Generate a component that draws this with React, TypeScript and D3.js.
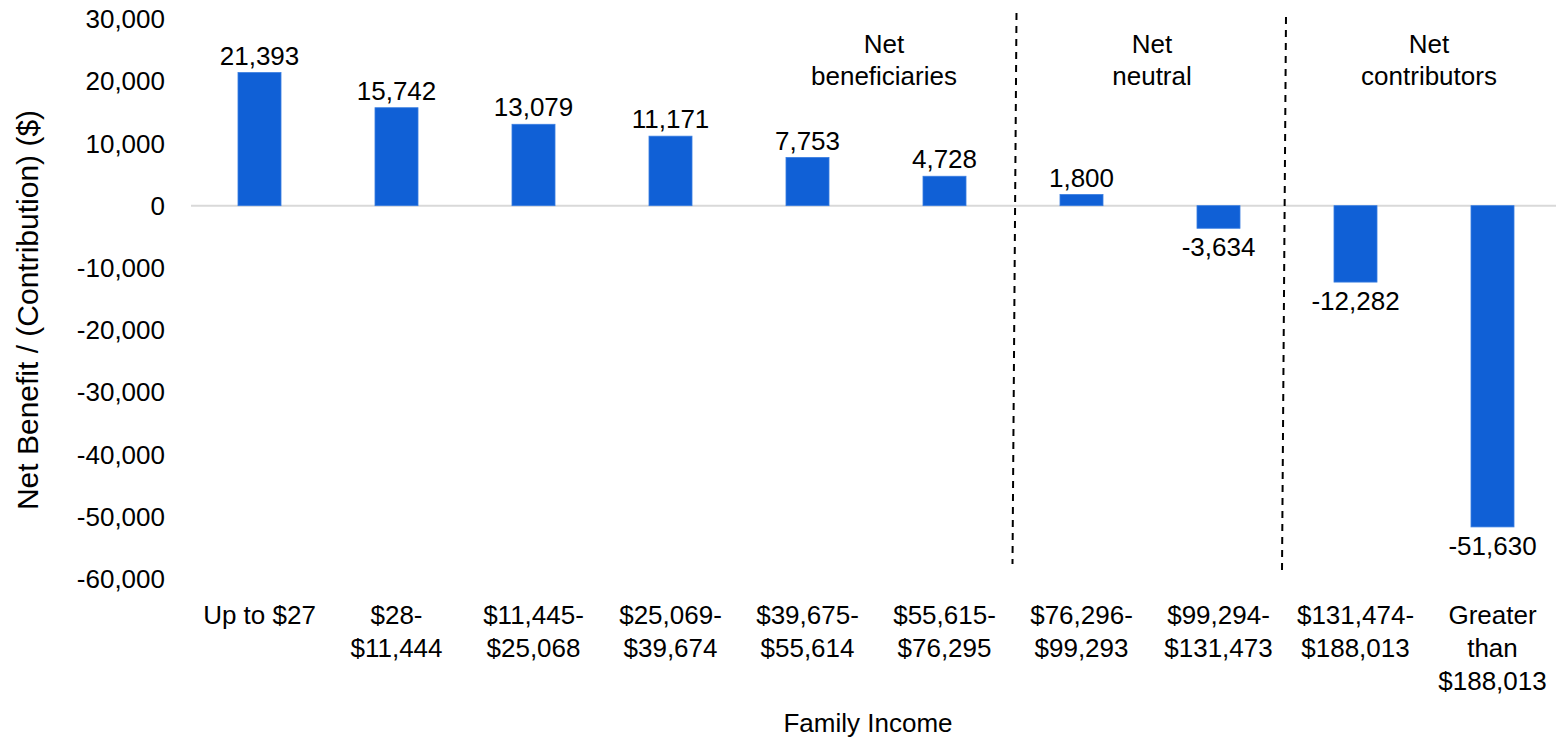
import React from "react";
import * as d3 from "d3";

const categories: string[][] = [
  ["Up to $27"],
  ["$28-", "$11,444"],
  ["$11,445-", "$25,068"],
  ["$25,069-", "$39,674"],
  ["$39,675-", "$55,614"],
  ["$55,615-", "$76,295"],
  ["$76,296-", "$99,293"],
  ["$99,294-", "$131,473"],
  ["$131,474-", "$188,013"],
  ["Greater", "than", "$188,013"],
];
const values: number[] = [21393, 15742, 13079, 11171, 7753, 4728, 1800, -3634, -12282, -51630];
const yTicks: number[] = [30000, 20000, 10000, 0, -10000, -20000, -30000, -40000, -50000, -60000];
const groups = [
  { lines: ["Net", "beneficiaries"], cx: 884 },
  { lines: ["Net", "neutral"], cx: 1152 },
  { lines: ["Net", "contributors"], cx: 1429 },
];
const dividerAfter: number[] = [6, 8];

const W = 1556;
const H = 738;
const FONT = "'Liberation Sans', Arial, Helvetica, sans-serif";
const FS = 26;
const BAR = "#1060d6";

const fmt0 = d3.format(",");
const fmt = (v: number) => fmt0(v).replace("\u2212", "-");

export default function App() {
  const keys = categories.map((_, i) => String(i));
  const x = d3.scaleBand<string>().domain(keys).range([191, 1561]).paddingInner(0.686).paddingOuter(0.343);
  const y = d3.scaleLinear().domain([-60000, 30000]).range([579, 19]);
  const step = x.step();
  const x0 = 191;

  return (
    <svg width={W} height={H} style={{ position: "absolute", left: 0, top: 0, background: "#fff" }} fontFamily={FONT}>
      <rect x={0} y={0} width={W} height={H} fill="#fff" />
      {yTicks.map((t) => (
        <text key={t} x={165} y={y(t)} dy="0.35em" textAnchor="end" fontSize={FS} fill="#000">
          {fmt(t)}
        </text>
      ))}
      <line x1={191} x2={W} y1={y(0)} y2={y(0)} stroke="#d9d9d9" strokeWidth={2} />
      {values.map((v, i) => {
        const bx = x(String(i))!;
        const top = Math.min(y(v), y(0));
        const h = Math.abs(y(v) - y(0));
        return <rect key={i} x={bx} y={top} width={x.bandwidth()} height={h} fill={BAR} stroke="#3a7ee0" strokeWidth={0.8} />;
      })}
      {values.map((v, i) => {
        const cx = x(String(i))! + x.bandwidth() / 2;
        const ly = v >= 0 ? y(v) - 17 : y(v) + 19;
        return (
          <text key={i} x={cx} y={ly} dy="0.35em" textAnchor="middle" fontSize={FS} fill="#000">
            {fmt(v)}
          </text>
        );
      })}
      {categories.map((lines, i) => {
        const cx = x(String(i))! + x.bandwidth() / 2;
        return (
          <text key={i} x={cx} textAnchor="middle" fontSize={FS} fill="#000">
            {lines.map((l, j) => (
              <tspan key={j} x={cx} y={615 + j * 33} dy="0.35em">
                {l}
              </tspan>
            ))}
          </text>
        );
      })}
      {dividerAfter.map((k, i) => {
        const b = x0 + step * k;
        const top = i === 0 ? { x: b + 3.5, y: 13 } : { x: b - 1, y: 17 };
        const bot = i === 0 ? { x: b - 0.5, y: 564 } : { x: b - 5, y: 572 };
        return (
          <line key={k} x1={top.x} y1={top.y} x2={bot.x} y2={bot.y} stroke="#000" strokeWidth={2} strokeDasharray="7 6" />
        );
      })}
      {groups.map((g, i) => (
        <text key={i} x={g.cx} textAnchor="middle" fontSize={FS} fill="#000">
          {g.lines.map((l, j) => (
            <tspan key={j} x={g.cx} y={44 + j * 32} dy="0.35em">
              {l}
            </tspan>
          ))}
        </text>
      ))}
      <text x={868} y={723} dy="0.35em" textAnchor="middle" fontSize={FS} fill="#000">
        Family Income
      </text>
      <text transform={`translate(27, 310) rotate(-90)`} dy="0.35em" textAnchor="middle" fontSize={30} fill="#000">
        Net Benefit / (Contribution) ($)
      </text>
    </svg>
  );
}
